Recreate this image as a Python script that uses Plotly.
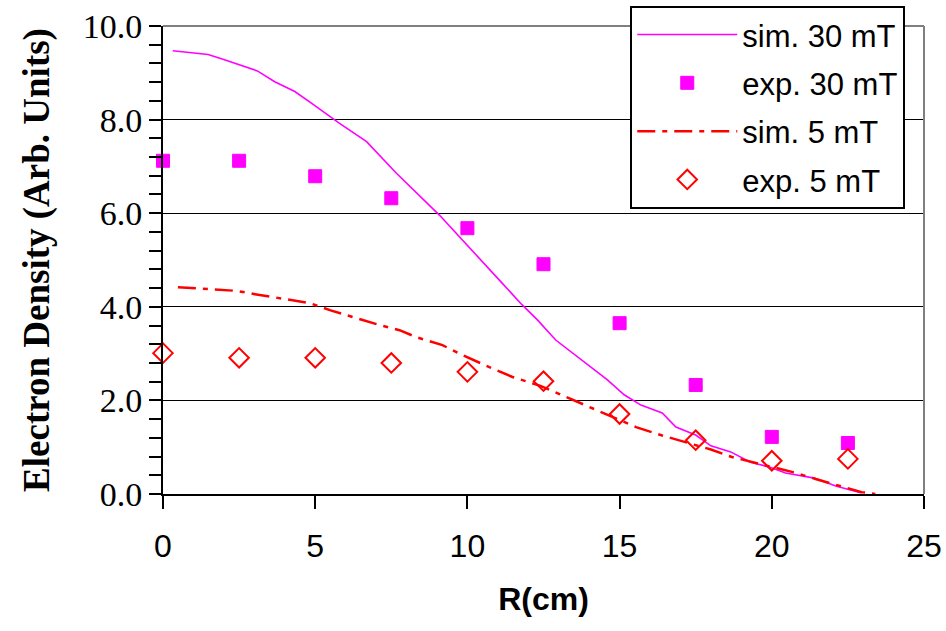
import plotly.graph_objects as go

# Simulated 30 mT
sim30_r = [0.32, 1.48, 1.92, 3.1, 3.67, 4.33, 4.92, 5.41, 5.8, 6.69, 7.11, 7.66, 9.08, 10.0,
           11.05, 11.8, 12.3, 12.9, 13.6, 14.1, 14.6, 15.15, 15.7, 16.4, 16.85, 17.5, 18.0,
           18.65, 19.3, 19.9, 20.45, 21.4, 22.1, 22.95]
sim30_n = [9.47, 9.39, 9.3, 9.04, 8.81, 8.6, 8.33, 8.1, 7.92, 7.53, 7.24, 6.86, 5.96, 5.3,
           4.57, 4.04, 3.72, 3.29, 2.93, 2.69, 2.44, 2.12, 1.9, 1.73, 1.43, 1.26, 1.03,
           0.9, 0.68, 0.58, 0.45, 0.34, 0.17, 0.02]

# Experimental 30 mT
exp30_r = [0, 2.5, 5, 7.5, 10, 12.5, 15, 17.5, 20, 22.5]
exp30_n = [7.12, 7.12, 6.79, 6.32, 5.68, 4.91, 3.65, 2.33, 1.22, 1.09]

# Simulated 5 mT
sim5_r = [0.49, 2.43, 3.02, 3.84, 4.82, 5.48, 6.36, 7.11, 7.77, 8.33, 9.18, 9.84, 10.72,
          11.48, 12.4, 13.5, 14.66, 15.54, 16.4, 17.28, 18.0, 18.69, 19.4, 20.13, 20.8,
          21.44, 22.2, 22.95, 23.4]
sim5_n = [4.42, 4.34, 4.27, 4.19, 4.08, 3.93, 3.76, 3.61, 3.5, 3.35, 3.18, 2.97, 2.71,
          2.5, 2.31, 2.0, 1.69, 1.43, 1.25, 1.09, 0.95, 0.79, 0.68, 0.56, 0.45,
          0.32, 0.18, 0.04, 0.0]

# Experimental 5 mT
exp5_r = [0, 2.5, 5, 7.5, 10, 12.5, 15, 17.5, 20, 22.5]
exp5_n = [3.01, 2.91, 2.91, 2.8, 2.61, 2.41, 1.71, 1.15, 0.71, 0.75]

x_ticks = [0, 5, 10, 15, 20, 25]
y_ticks = [0, 2, 4, 6, 8, 10]

fig = go.Figure()
fig.add_trace(go.Scatter(x=sim30_r, y=sim30_n, mode="lines", name="sim. 30 mT",
                         line=dict(color="#ff00ff", width=1.6), legendgroup="a"))
fig.add_trace(go.Scatter(x=exp30_r, y=exp30_n, mode="markers", name="exp. 30 mT",
                         marker=dict(symbol="square", size=13, color="#ff00ff",
                                     line=dict(color="#ff00ff", width=1)),
                         cliponaxis=False, legendgroup="b"))
fig.add_trace(go.Scatter(x=sim5_r, y=sim5_n, mode="lines", name="sim. 5 mT",
                         line=dict(color="#ff0000", width=2.5, dash="18px,7px,5px,7px"),
                         legendgroup="c"))
fig.add_trace(go.Scatter(x=exp5_r, y=exp5_n, mode="markers", name="exp. 5 mT",
                         marker=dict(symbol="diamond-open", size=15, color="#ff0000",
                                     line=dict(color="#ff0000", width=2)),
                         cliponaxis=False, legendgroup="d"))

fig.update_layout(
    width=946, height=631,
    margin=dict(l=163, r=22, t=26, b=137, autoexpand=False),
    paper_bgcolor="white", plot_bgcolor="white",
    showlegend=True,
    legend=dict(x=0.614, y=1.043, xanchor="left", yanchor="top",
                bgcolor="white", bordercolor="black", borderwidth=2,
                font=dict(family="Liberation Sans, Arial", size=31, color="black"),
                itemwidth=100, tracegroupgap=5),
    xaxis=dict(range=[0, 25], tickvals=x_ticks, ticktext=[str(v) for v in x_ticks],
               showgrid=False, zeroline=False, automargin=False,
               showline=True, linecolor="black", linewidth=2,
               ticks="outside", ticklen=13, tickwidth=2, tickcolor="black",
               ticklabelstandoff=10,
               tickfont=dict(family="Liberation Sans, Arial", size=32, color="black"),
               title=dict(text="<b>R(cm)</b>", standoff=24,
                          font=dict(family="Liberation Sans, Arial", size=32, color="black"))),
    yaxis=dict(range=[0, 10], tickvals=y_ticks, ticktext=["%.1f" % v for v in y_ticks],
               showgrid=True, gridcolor="black", gridwidth=1, zeroline=False,
               automargin=False,
               showline=True, linecolor="black", linewidth=2,
               ticks="outside", ticklen=12, tickwidth=2, tickcolor="black",
               minor=dict(dtick=0.4, ticks="outside", ticklen=12, tickwidth=2,
                          tickcolor="black", showgrid=False),
               tickfont=dict(family="Liberation Serif, Times New Roman", size=34, color="black"),
               title=dict(text="<b>Electron Density (Arb. Units)</b>", standoff=22,
                          font=dict(family="Liberation Serif, Times New Roman", size=37,
                                    color="black"))),
    shapes=[
        dict(type="line", xref="paper", yref="paper", x0=0, x1=1, y0=1, y1=1,
             line=dict(color="#808080", width=2), layer="above"),
        dict(type="line", xref="paper", yref="paper", x0=1, x1=1, y0=0, y1=1,
             line=dict(color="#808080", width=2), layer="above"),
    ],
)

fig.write_html("out.html")
